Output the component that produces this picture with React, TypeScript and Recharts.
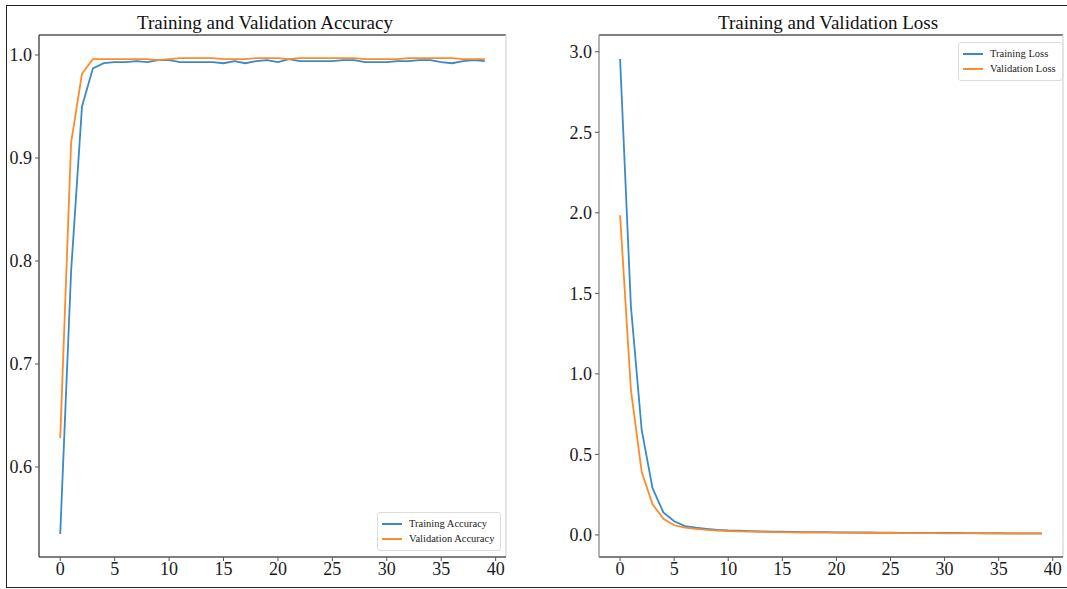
import { LineChart, Line, XAxis, YAxis, Legend, ReferenceLine } from 'recharts';

const epochs = [
	0, 1, 2, 3, 4, 5, 6, 7, 8, 9, 10, 11, 12, 13, 14, 15, 16, 17, 18, 19,
	20, 21, 22, 23, 24, 25, 26, 27, 28, 29, 30, 31, 32, 33, 34, 35, 36, 37, 38, 39,
];

const trainAcc = [
	0.535, 0.79, 0.95, 0.987, 0.992, 0.993, 0.993, 0.994, 0.993, 0.995,
	0.995, 0.993, 0.993, 0.993, 0.993, 0.992, 0.994, 0.992, 0.994, 0.995,
	0.993, 0.996, 0.994, 0.994, 0.994, 0.994, 0.995, 0.995, 0.993, 0.993,
	0.993, 0.994, 0.994, 0.995, 0.995, 0.993, 0.992, 0.994, 0.995, 0.994,
];
const valAcc = [
	0.628, 0.915, 0.982, 0.996, 0.996, 0.996, 0.996, 0.996, 0.996, 0.995,
	0.996, 0.997, 0.997, 0.997, 0.997, 0.996, 0.996, 0.996, 0.997, 0.997,
	0.997, 0.996, 0.997, 0.997, 0.997, 0.997, 0.997, 0.997, 0.996, 0.996,
	0.996, 0.996, 0.997, 0.997, 0.997, 0.997, 0.997, 0.996, 0.996, 0.996,
];

const trainLoss = [
	2.955, 1.42, 0.65, 0.29, 0.14, 0.085, 0.055, 0.045, 0.038, 0.032,
	0.028, 0.026, 0.024, 0.022, 0.021, 0.02, 0.019, 0.018, 0.017, 0.017,
	0.016, 0.016, 0.015, 0.015, 0.014, 0.014, 0.013, 0.013, 0.013, 0.012,
	0.012, 0.012, 0.011, 0.011, 0.011, 0.011, 0.01, 0.01, 0.01, 0.01,
];
const valLoss = [
	1.985, 0.9, 0.39, 0.19, 0.1, 0.06, 0.045, 0.038, 0.032, 0.027,
	0.024, 0.022, 0.02, 0.019, 0.018, 0.017, 0.016, 0.015, 0.015, 0.014,
	0.014, 0.013, 0.013, 0.012, 0.012, 0.012, 0.011, 0.011, 0.011, 0.011,
	0.01, 0.01, 0.01, 0.01, 0.009, 0.009, 0.009, 0.009, 0.009, 0.009,
];

const xTicks = [0, 5, 10, 15, 20, 25, 30, 35, 40];
const accTicks = [0.6, 0.7, 0.8, 0.9, 1.0];
const lossTicks = [0, 0.5, 1.0, 1.5, 2.0, 2.5, 3.0];

const accData = epochs.map((e, i) => ({ epoch: e, train: trainAcc[i], val: valAcc[i] }));
const lossData = epochs.map((e, i) => ({ epoch: e, train: trainLoss[i], val: valLoss[i] }));

const FONT = '"Liberation Serif", "DejaVu Serif", serif';
const BLUE = '#3a8ac6';
const ORANGE = '#ff8a2c';
const DARK = '#555';
const X_DOMAIN: [number, number] = [-1.95, 40.95];
const tickStyle = { fontFamily: FONT, fontSize: 18, fill: '#1a1a1a' };

function MplLegend(props: any) {
	const { payload } = props;
	return (
		<div
			style={{
				border: '1px solid #ddd',
				borderRadius: 3,
				background: '#fff',
				padding: '3px 6px 4px 4px',
				fontFamily: FONT,
				fontSize: 10.5,
				color: '#222',
				lineHeight: '15px',
			}}
		>
			{(payload || []).map((p: any) => (
				<div key={p.value} style={{ display: 'flex', alignItems: 'center', whiteSpace: 'nowrap' }}>
					<span style={{ display: 'inline-block', width: 20, height: 2, background: p.color, marginRight: 7 }} />
					{p.value}
				</div>
			))}
		</div>
	);
}

function Panel({
	data,
	title,
	titleCenter,
	left,
	width,
	rightMargin,
	yDomain,
	yTicks,
	leftSpine,
	legendPos,
	names,
}: {
	data: any[];
	title: string;
	titleCenter: number;
	left: number;
	width: number;
	rightMargin: number;
	yDomain: [number, number];
	yTicks: number[];
	leftSpine: string;
	legendPos: { left: number; top: number };
	names: [string, string];
}) {
	return (
		<div style={{ position: 'absolute', left, top: 0, width, height: 589 }}>
			<div
				style={{
					position: 'absolute',
					left: titleCenter - 200,
					width: 400,
					top: 11,
					textAlign: 'center',
					fontFamily: FONT,
					fontSize: 19,
					color: '#111',
					lineHeight: '23px',
				}}
			>
				{title}
			</div>
			<LineChart
				width={width}
				height={589}
				data={data}
				margin={{ top: 35, right: rightMargin, bottom: 0, left: 0 }}
			>
				<XAxis
					dataKey="epoch"
					type="number"
					domain={X_DOMAIN}
					ticks={xTicks}
					allowDataOverflow
					height={32}
					tickSize={4}
					tickMargin={1}
					tick={tickStyle}
					tickLine={{ stroke: DARK }}
					axisLine={{ stroke: DARK, strokeWidth: 1.5 }}
				/>
				<YAxis
					type="number"
					domain={yDomain}
					ticks={yTicks}
					allowDataOverflow
					width={39}
					tickSize={4}
					tickMargin={3}
					tick={tickStyle}
					tickFormatter={(v: number) => v.toFixed(1)}
					tickLine={{ stroke: DARK }}
					axisLine={{ stroke: leftSpine, strokeWidth: 1.5 }}
				/>
				<ReferenceLine y={yDomain[1]} stroke={DARK} strokeWidth={1.5} />
				<ReferenceLine x={X_DOMAIN[1]} stroke="#ddd" strokeWidth={1.5} />
				<Legend
					layout="horizontal"
					verticalAlign="middle"
					align="center"
					content={<MplLegend />}
					wrapperStyle={{ position: 'absolute', left: legendPos.left, top: legendPos.top, width: 'auto' }}
				/>
				<Line
					type="linear"
					dataKey="train"
					name={names[0]}
					stroke={BLUE}
					strokeWidth={1.8}
					dot={false}
					isAnimationActive={false}
				/>
				<Line
					type="linear"
					dataKey="val"
					name={names[1]}
					stroke={ORANGE}
					strokeWidth={1.8}
					dot={false}
					isAnimationActive={false}
				/>
			</LineChart>
		</div>
	);
}

export default function App() {
	return (
		<div style={{ position: 'absolute', left: 0, top: 0, width: 1067, height: 589, background: '#fff', overflow: 'hidden' }}>
			<div
				style={{
					position: 'absolute',
					left: 6,
					top: 5,
					width: 1080,
					height: 583,
					border: '1.5px solid #222',
					boxSizing: 'border-box',
				}}
			/>
			<Panel
				data={accData}
				title="Training and Validation Accuracy"
				titleCenter={265}
				left={0}
				width={520}
				rightMargin={14}
				yDomain={[0.5126, 1.0194]}
				yTicks={accTicks}
				leftSpine={DARK}
				legendPos={{ left: 377, top: 512 }}
				names={['Training Accuracy', 'Validation Accuracy']}
			/>
			<Panel
				data={lossData}
				title="Training and Validation Loss"
				titleCenter={268}
				left={560}
				width={507}
				rightMargin={4}
				yDomain={[-0.137, 3.104]}
				yTicks={lossTicks}
				leftSpine="#999"
				legendPos={{ left: 398, top: 42 }}
				names={['Training Loss', 'Validation Loss']}
			/>
		</div>
	);
}
